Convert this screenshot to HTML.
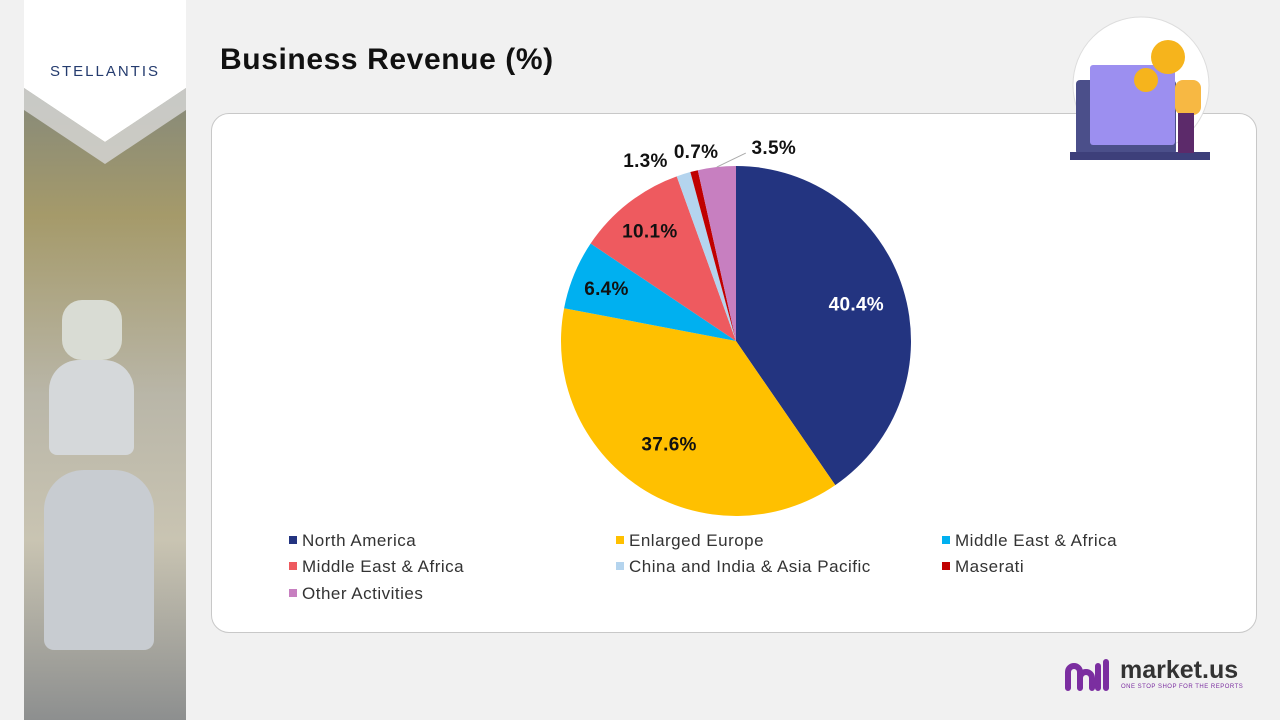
<!DOCTYPE html>
<html><head><meta charset="utf-8">
<style>
body{margin:0;width:1280px;height:720px;background:#f1f1f1;font-family:"Liberation Sans",sans-serif;position:relative;overflow:hidden}
.abs{position:absolute}
</style></head>
<body>
<div class="abs" style="left:24px;top:0;width:162px;height:720px;background:linear-gradient(180deg,#6f7d86 0%,#a59a6a 30%,#b9b6a8 55%,#c9c4b2 75%,#8d8f8f 100%)">
  <div class="abs" style="left:20px;top:470px;width:110px;height:180px;border-radius:40px 40px 10px 10px;background:#c8ccd1"></div>
  <div class="abs" style="left:25px;top:360px;width:85px;height:95px;border-radius:30px 30px 8px 8px;background:#d5d8da"></div>
  <div class="abs" style="left:38px;top:300px;width:60px;height:60px;border-radius:20px;background:#d9dcd4"></div>
</div>
<svg class="abs" style="left:24px;top:0" width="162" height="170">
  <polygon points="0,0 162,0 162,88 81,142 0,88" fill="#fff"/>
  <polygon points="0,88 81,142 162,88 162,110 81,164 0,110" fill="#d8d8d8" opacity="0.8"/>
  <text x="81" y="76" text-anchor="middle" font-size="15" fill="#243b6e" letter-spacing="2" font-family="Liberation Sans">STELLANTIS</text>
</svg>
<div class="abs" style="left:220px;top:43px;font-size:30px;font-weight:bold;color:#111;letter-spacing:0.6px">Business Revenue (%)</div>
<div class="abs" style="left:211px;top:113px;width:1044px;height:518px;background:#fff;border:1px solid #c8c8c8;border-radius:18px"></div>
<svg class="abs" style="left:1060px;top:10px" width="160" height="180">
  <circle cx="81" cy="75" r="68" fill="#fff" stroke="#ddd"/>
  <polygon points="52,150 110,150 81,180" fill="#fff"/>
  <rect x="16" y="70" width="100" height="75" rx="4" fill="#4b4f8a"/>
  <rect x="10" y="142" width="140" height="8" fill="#3d3f7a"/>
  <rect x="30" y="55" width="85" height="80" rx="3" fill="#9c8ff0"/>
  <circle cx="108" cy="47" r="17" fill="#f6b41c"/>
  <circle cx="86" cy="70" r="12" fill="#f6b41c"/>
  <rect x="115" y="70" width="26" height="35" rx="8" fill="#f7b843"/>
  <rect x="118" y="103" width="16" height="40" fill="#5c2a6a"/>
</svg>
<svg class="abs" id="chart" style="left:0;top:0" width="1280" height="720"></svg>
<div class="abs" style="left:1064px;top:658px;width:200px;height:36px">
  <svg width="48" height="36" style="position:absolute;left:0;top:0"><path d="M4 30 V14 a6 6 0 0 1 12 0 V30 M16 20 a6 6 0 0 1 12 0 V30 M34 8 V30 M42 4 V30" stroke="#7b2ea0" stroke-width="6" fill="none" stroke-linecap="round"/></svg>
  <div style="position:absolute;left:56px;top:-2px;font-size:25px;font-weight:bold;color:#333">market.us</div>
  <div style="position:absolute;left:57px;top:26px;font-size:6px;color:#7b2ea0;letter-spacing:0.5px">ONE STOP SHOP FOR THE REPORTS</div>
</div>
<script>
const categories=["North America","Enlarged Europe","Middle East & Africa","Middle East & Africa","China and India & Asia Pacific","Maserati","Other Activities"];
const values=[40.4,37.6,6.4,10.1,1.3,0.7,3.5];
const labels=["40.4%","37.6%","6.4%","10.1%","1.3%","0.7%","3.5%"];
const colors=["#233480","#FFC000","#00B0F0","#EE5A5F","#B4D4EE","#C00000","#C77FC0"];
const NS="http://www.w3.org/2000/svg";
const svg=document.getElementById('chart');
const cx=736,cy=341,R=175;
const total=values.reduce((a,b)=>a+b,0);
function pt(frac,r){const a=frac*2*Math.PI;return [cx+r*Math.sin(a),cy-r*Math.cos(a)];}
let acc=0;
values.forEach((v,i)=>{
  const s=acc/total,e=(acc+v)/total;acc+=v;
  const p0=pt(s,R),p1=pt(e,R);
  const p=document.createElementNS(NS,'path');
  p.setAttribute('d',`M${cx},${cy} L${p0[0]},${p0[1]} A${R},${R} 0 ${(e-s)>0.5?1:0} 1 ${p1[0]},${p1[1]} Z`);
  p.setAttribute('fill',colors[i]);
  
  
  svg.appendChild(p);
  const m=(s+e)/2;
  let lx,ly;
  const t=document.createElementNS(NS,'text');
  if(v>=5){
    const f=i===0?0.72:(i===1?0.7:0.8);
    [lx,ly]=pt(m,R*f);
  }else{
    const edge=pt(m,R);
    const off=[[0,0],[0,0],[0,0],[0,0],[-38,-14],[2,-20],[57,-20]][i];
    lx=edge[0]+off[0];ly=edge[1]+off[1];
    if(i===6){
      const ln=document.createElementNS(NS,'line');
      ln.setAttribute('x1',edge[0]);ln.setAttribute('y1',edge[1]);
      ln.setAttribute('x2',lx-28);ln.setAttribute('y2',ly+6);
      ln.setAttribute('stroke','#aaa');
      
      
      svg.appendChild(ln);
    }
  }
  t.setAttribute('x',lx);t.setAttribute('y',ly+7);
  t.setAttribute('text-anchor','middle');
  t.setAttribute('font-size','19');t.setAttribute('font-weight','bold');
  t.setAttribute('letter-spacing','0.3');
  t.setAttribute('fill',i===0?'#fff':'#111');
  t.textContent=labels[i];
  
  
  svg.appendChild(t);
});
const colX=[289,616,942],rowY=[540,566,593];
categories.forEach((c,i)=>{
  const x=colX[i%3],y=rowY[Math.floor(i/3)];
  const g=document.createElementNS(NS,'g');
  
  
  const r=document.createElementNS(NS,'rect');
  r.setAttribute('x',x);r.setAttribute('y',y-4);r.setAttribute('width',8);r.setAttribute('height',8);r.setAttribute('fill',colors[i]);
  const t=document.createElementNS(NS,'text');
  t.setAttribute('x',x+13);t.setAttribute('y',y+6);t.setAttribute('font-size','17');t.setAttribute('letter-spacing','0.5');t.setAttribute('fill','#333');
  t.textContent=c;
  g.appendChild(r);g.appendChild(t);svg.appendChild(g);
});
</script>
</body></html>
